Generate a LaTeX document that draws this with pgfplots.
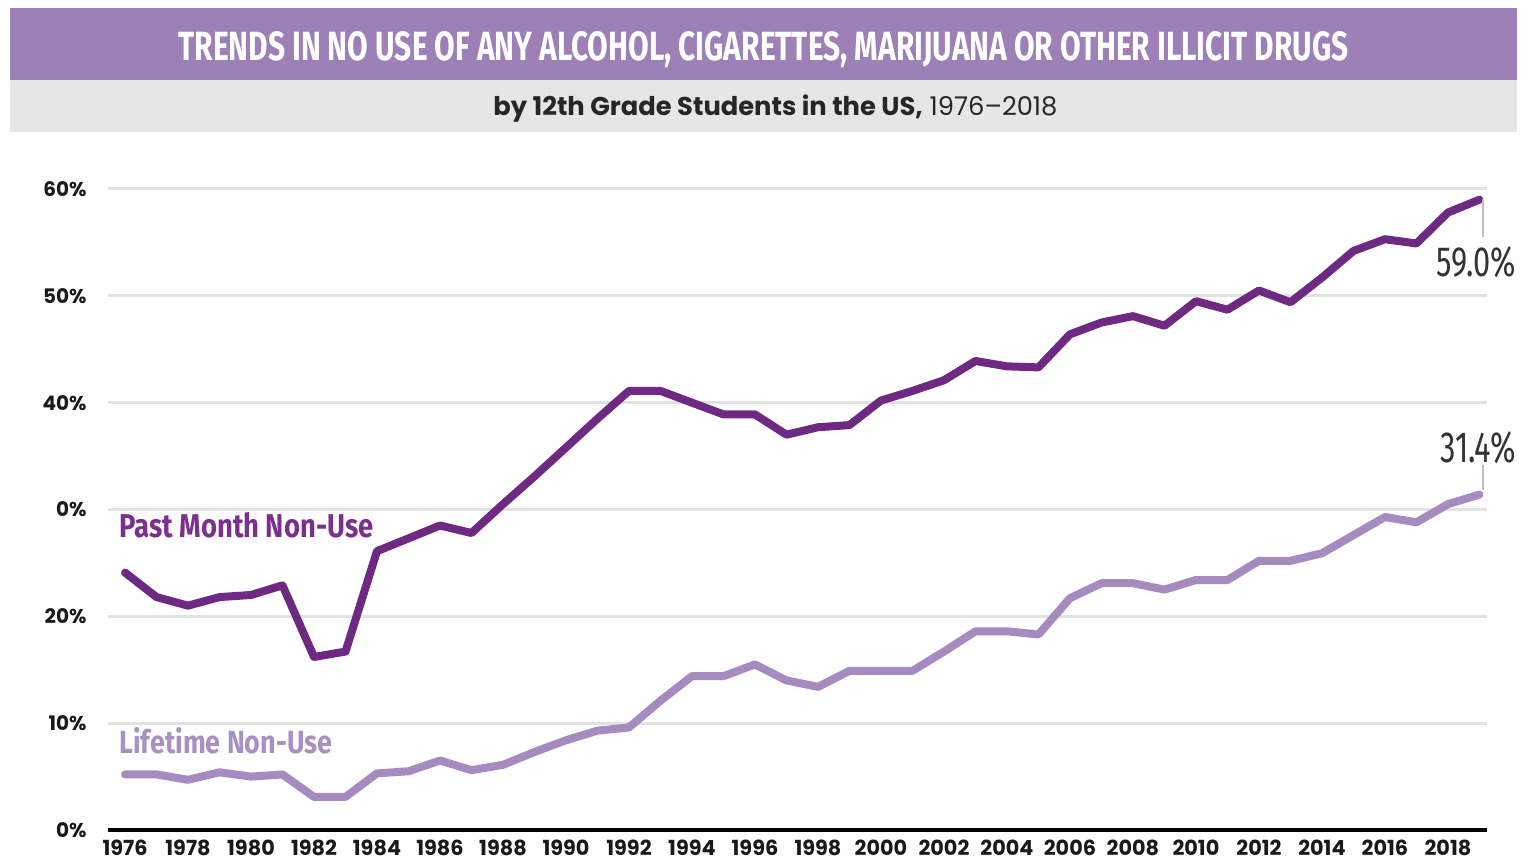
\documentclass[border=0pt]{standalone}
\usepackage{fontspec}
\setmainfont{Poppins}
\newfontfamily\condfont{Fira Sans}
\usepackage{graphicx}
\usepackage{pgfplots}
\pgfplotsset{compat=1.18}
\definecolor{titlebar}{HTML}{9C80B6}
\definecolor{subbar}{HTML}{E6E6E7}
\definecolor{pastc}{HTML}{6E2A83}
\definecolor{lifec}{HTML}{A58BBF}
\definecolor{pasttxt}{HTML}{7B2F8E}
\definecolor{lifetxt}{HTML}{A890C4}
\definecolor{gridgray}{HTML}{E2E2E2}
\definecolor{annot}{HTML}{333333}
\pgfplotstableread{
year past life
1976 24.1 5.2
1977 21.8 5.2
1978 21.0 4.7
1979 21.8 5.4
1980 22.0 5.0
1981 22.9 5.2
1982 16.2 3.1
1983 16.7 3.1
1984 26.1 5.3
1985 27.3 5.5
1986 28.5 6.5
1987 27.8 5.6
1988 30.5 6.1
1989 33.1 7.3
1990 35.8 8.4
1991 38.5 9.3
1992 41.1 9.6
1993 41.1 12.1
1994 40.0 14.4
1995 38.9 14.4
1996 38.9 15.5
1997 37.0 14.0
1998 37.7 13.4
1999 37.9 14.9
2000 40.2 14.9
2001 41.1 14.9
2002 42.1 16.7
2003 43.9 18.6
2004 43.4 18.6
2005 43.3 18.3
2006 46.4 21.7
2007 47.5 23.1
2008 48.1 23.1
2009 47.2 22.5
2010 49.5 23.4
2011 48.7 23.4
2012 50.5 25.2
2013 49.4 25.2
2014 51.7 25.9
2015 54.2 27.6
2016 55.3 29.3
2017 54.9 28.8
2018 57.8 30.5
2019 59.0 31.4
}\datatable
\begin{document}
\begin{tikzpicture}
\useasboundingbox (0pt,0pt) rectangle (760.5pt,431.5pt);
\fill[titlebar] (5pt,391.5pt) rectangle (758.5pt,427.5pt);
\fill[subbar] (5pt,365.5pt) rectangle (758.5pt,391.5pt);
\node[anchor=base west, inner sep=0pt, text=white] at (89pt,401.2pt)
  {\resizebox{585pt}{14.5pt}{\condfont\bfseries TRENDS IN NO USE OF ANY ALCOHOL, CIGARETTES, MARIJUANA OR OTHER ILLICIT DRUGS}};
\node[anchor=base west, inner sep=0pt, text=black!85] at (246.5pt,373.5pt)
  {\resizebox{282pt}{!}{\bfseries by 12th Grade Students in the US,\mdseries{} 1976–2018}};
\begin{axis}[
  at={(54pt,16.5pt)}, anchor=south west,
  scale only axis, width=689.5pt, height=320.5pt,
  xmin=1975.46, xmax=2019.24, ymin=0, ymax=60,
  clip=false,
  axis line style={draw=none},
  major tick length=0pt,
  ytick={0,10,20,30,40,50,60},
  yticklabels={0\%,10\%,20\%,0\%,40\%,50\%,60\%},
  xtick={1976,1978,...,2018},
  /pgf/number format/assume math mode=true,
  /pgf/number format/1000 sep={},
  ymajorgrids,
  grid style={line width=1.5pt, color=gridgray},
  tick label style={text=black!90},
  yticklabel style={font=\bfseries\fontsize{10}{12}\selectfont, anchor=east, inner sep=0pt, xshift=-10.5pt},
  xticklabel style={font=\bfseries\fontsize{10.4}{12}\selectfont, anchor=north, inner sep=0pt, yshift=-5pt},
]
\addplot[color=lifec, line width=4pt, line join=round, line cap=round] table[x=year, y=life] {\datatable};
\addplot[color=pastc, line width=4pt, line join=round, line cap=round] table[x=year, y=past] {\datatable};
\draw[black, line width=1.8pt] (axis cs:1975.46,0) -- (axis cs:2019.24,0);
\end{axis}
\draw[gray!50, line width=1pt] (741.5pt,332pt) -- (741.5pt,313pt);
\draw[gray!50, line width=1pt] (741.5pt,199pt) -- (741.5pt,186.5pt);
\node[anchor=base east, inner sep=0pt, text=annot] at (758pt,293pt)
  {\resizebox{39.5pt}{15pt}{\condfont\mdseries 59.0\%}};
\node[anchor=base east, inner sep=0pt, text=annot] at (758pt,200pt)
  {\resizebox{37.5pt}{15.5pt}{\condfont\mdseries 31.4\%}};
\node[anchor=base west, inner sep=0pt, text=pasttxt] at (59.5pt,162.5pt)
  {\resizebox{127pt}{12.5pt}{\condfont\bfseries Past Month Non-Use}};
\node[anchor=base west, inner sep=0pt, text=lifetxt] at (59.5pt,55pt)
  {\resizebox{106.5pt}{13pt}{\condfont\bfseries Lifetime Non-Use}};
\end{tikzpicture}
\end{document}
